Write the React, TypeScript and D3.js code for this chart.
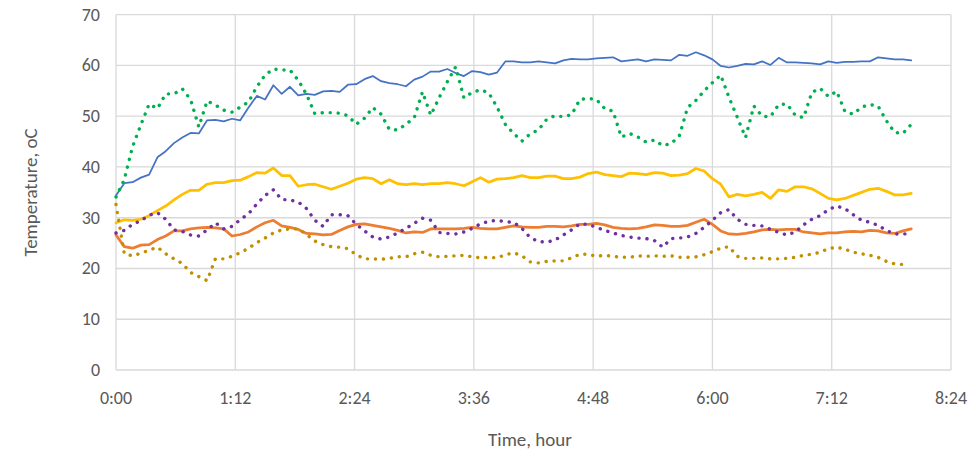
import React from "react";
import * as d3 from "d3";

// time step 5 minutes, 0..480
const STEP_MIN = 5;

const blueSeries = [
  34.4, 36.8, 37.0, 37.9, 38.5, 41.9, 43.1, 44.7, 45.8, 46.7, 46.6, 49.2, 49.3, 49.0, 49.5, 49.2, 51.7, 54.0, 53.3, 56.1, 54.4,
  55.8, 54.1, 54.4, 54.2, 54.9, 55.0, 54.8, 56.2, 56.3, 57.3, 57.9, 56.9, 56.5, 56.3, 55.9, 57.2, 57.8, 58.8, 58.8, 59.3,
  58.5, 57.9, 58.9, 58.7, 58.2, 58.6, 60.8, 60.8, 60.6, 60.6, 60.8, 60.6, 60.4, 61.0, 61.3, 61.2, 61.2, 61.4, 61.5, 61.6,
  60.8, 61.0, 61.2, 60.8, 61.2, 61.1, 61.0, 62.1, 61.9, 62.6,
  62.0, 61.2, 59.9, 59.6, 59.9, 60.3, 60.2, 60.8, 60.1, 61.5, 60.6, 60.6, 60.5, 60.4, 60.2, 60.8, 60.5, 60.7, 60.7, 60.8,
  60.8, 61.6, 61.4, 61.2, 61.2, 61.0,
];

const orangeSeries = [
  26.6, 24.3, 24.0, 24.6, 24.7, 25.7, 26.4, 27.4, 27.4, 27.8, 28.0, 28.1, 28.0, 27.8, 26.4, 26.7, 27.2, 28.2, 29.0, 29.5, 28.4,
  28.1, 27.7, 26.9, 26.8, 26.6, 26.7, 27.5, 28.2, 28.7, 28.8, 28.5, 28.2, 27.9, 27.5, 27.0, 27.2, 27.1, 27.8, 27.8, 27.8,
  27.8, 27.9, 28.1, 27.9, 27.8, 27.8, 28.1, 28.4, 28.2, 28.1, 28.1, 28.3, 28.3, 28.2, 28.4, 28.7, 28.7, 28.9, 28.6,
  28.1, 27.9, 27.8, 27.9, 28.2, 28.6, 28.5, 28.3, 28.3, 28.5, 29.1, 29.7, 28.7, 27.4, 26.8, 26.7, 26.9, 27.2, 27.6, 27.7,
  27.6, 27.7, 27.7, 27.2, 27.0, 26.8, 27.0, 27.0, 27.2, 27.3, 27.2, 27.5, 27.4, 27.0, 26.9, 27.4, 27.8,
];

const yellowSeries = [
  29.0, 29.6, 29.5, 29.7, 30.4, 31.4, 32.3, 33.5, 34.6, 35.4, 35.4, 36.6, 36.9, 36.9, 37.3, 37.4, 38.1, 38.9, 38.8, 39.8, 38.3,
  38.3, 36.2, 36.5, 36.6, 36.1, 35.6, 36.2, 36.8, 37.6, 37.9, 37.7, 36.7, 37.5, 36.7, 36.5, 36.7, 36.5, 36.7, 36.7, 36.9,
  36.7, 36.3, 37.1, 37.9, 37.0, 37.6, 37.7, 37.9, 38.3, 37.9, 37.9, 38.2, 38.2, 37.7, 37.7, 38.0, 38.7, 39.0, 38.5,
  38.3, 38.1, 38.8, 38.7, 38.5, 38.9, 38.8, 38.3, 38.4, 38.7, 39.7, 39.2, 37.7, 36.6, 34.1, 34.6, 34.3, 34.6, 35.0, 33.8,
  35.5, 35.2, 36.1, 36.1, 35.7, 34.8, 33.8, 33.5, 33.8, 34.4, 35.0, 35.6, 35.8, 35.2, 34.5, 34.5, 34.8,
];

const greenSeries = [
  34.1, 37.5, 44.0, 48.3, 52.4, 51.5, 54.4, 54.4, 55.4, 53.3, 47.9, 53.0, 52.2, 51.2, 50.8, 51.8, 52.8, 55.8, 58.1, 59.3, 59.1,
  59.1, 57.1, 54.3, 50.5, 50.7, 50.7, 50.6, 50.1, 48.4, 49.6, 51.7, 50.4, 47.4, 47.3, 48.4, 49.7, 54.8, 50.2, 53.6, 56.8,
  59.7, 53.6, 54.7, 55.2, 54.6, 51.8, 48.4, 46.6, 45.1, 46.5, 47.3, 49.4, 50.1, 49.9, 50.3, 53.3, 53.5, 53.3, 51.5, 51.0,
  45.9, 46.6, 45.9, 44.9, 45.3, 44.2, 44.6, 46.1, 51.7, 53.1,
  55.0, 56.6, 58.1, 53.7, 49.8, 45.8, 52.0, 50.0, 49.9, 52.3, 52.4, 50.2, 49.7, 54.7, 55.5, 53.9, 54.9, 50.9, 50.4, 51.8,
  52.3, 52.0, 49.1, 46.8, 46.6, 48.4,
];

const purpleSeries = [
  27.0, 27.5, 28.7, 29.4, 30.5, 31.0, 29.7, 27.6, 27.3, 26.6, 26.4, 27.6, 29.0, 27.8, 28.3, 29.6, 30.8, 32.7, 34.4, 35.5, 33.6,
  33.5, 33.1, 31.8, 29.5, 28.3, 30.6, 30.6, 30.4, 28.7, 27.4, 26.2, 25.8, 26.2, 27.0, 27.9, 28.9, 29.9, 29.5, 27.1, 26.9,
  26.8, 27.2, 27.9, 28.8, 29.3, 29.5, 29.2, 29.1, 27.9, 26.1, 25.3, 25.2, 25.6, 26.6, 27.6, 28.8, 28.7, 28.1, 27.5,
  27.0, 26.5, 26.2, 26.0, 25.9, 25.5, 24.2, 25.9, 26.0, 26.2, 26.9, 28.1, 29.5, 31.0, 31.6, 29.7, 28.7, 28.5, 28.4, 27.7,
  27.1, 26.6, 27.2, 28.6, 29.7, 30.4, 31.6, 32.3, 31.8, 30.6, 29.5, 29.1, 28.5, 27.5, 26.8, 26.8, 26.9,
];

const goldSeries = [
  32.6, 22.9, 22.5, 23.0, 23.6, 24.2, 22.9, 21.9, 21.0, 19.2, 18.4, 17.6, 21.9, 21.9, 22.4, 23.1, 24.0, 25.1, 26.0, 27.0, 27.6,
  27.8, 27.8, 26.7, 25.4, 24.7, 24.3, 24.2, 23.9, 22.7, 21.9, 21.9, 21.8, 22.0, 22.3, 22.3, 22.9, 23.2, 22.6, 22.3, 22.4,
  22.5, 22.6, 22.3, 22.1, 22.2, 22.1, 22.7, 23.1, 22.5, 21.3, 21.1, 21.4, 21.5, 21.5, 22.1, 22.8, 22.8, 22.4, 22.6,
  22.4, 22.2, 22.2, 22.5, 22.4, 22.5, 22.4, 22.5, 22.2, 22.2, 22.3, 22.7, 23.3, 24.0, 24.3, 22.4, 22.0, 22.0, 22.1, 21.9,
  21.9, 22.0, 22.2, 22.6, 22.8, 23.2, 23.9, 24.2, 23.8, 23.2, 22.9, 22.6, 22.2, 21.4, 20.9, 20.8,
];

const xTickMinutes = [0, 72, 144, 216, 288, 360, 432, 504];
const xTickLabels = ["0:00", "1:12", "2:24", "3:36", "4:48", "6:00", "7:12", "8:24"];
const yTicks = [0, 10, 20, 30, 40, 50, 60, 70];

const xTitle = "Time, hour";
const yTitle = "Temperature, oC";

type SeriesDef = { values: number[]; color: string; dotted: boolean; width: number };

const seriesList: SeriesDef[] = [
  { values: blueSeries, color: "#4472C4", dotted: false, width: 1.75 },
  { values: orangeSeries, color: "#ED7D31", dotted: false, width: 2.75 },
  { values: yellowSeries, color: "#FFC000", dotted: false, width: 2.75 },
  { values: greenSeries, color: "#00B050", dotted: true, width: 3.4 },
  { values: purpleSeries, color: "#7030A0", dotted: true, width: 3.4 },
  { values: goldSeries, color: "#BF9000", dotted: true, width: 3.4 },
];

const W = 976;
const H = 456;
const M = { left: 116, right: 976 - 951, top: 14.7, bottom: 456 - 370 };
const FONT = "Carlito, Calibri, Lato, 'Open Sans', sans-serif";
const TEXT = "#595959";
const GRID = "#D9D9D9";

export default function App() {
  const x = d3.scaleLinear().domain([0, 504]).range([M.left, W - M.right]);
  const y = d3.scaleLinear().domain([0, 70]).range([H - M.bottom, M.top]);

  const line = d3
    .line<number>()
    .x((_, i) => x(i * STEP_MIN))
    .y((d) => y(d));

  return (
    <svg
      width={W}
      height={H}
      style={{ position: "absolute", left: 0, top: 0, background: "#fff" }}
      fontFamily={FONT}
    >
      <rect x={0} y={0} width={W} height={H} fill="#fff" />
      {yTicks.map((t) => (
        <line
          key={"h" + t}
          x1={x(0)}
          x2={x(504)}
          y1={y(t)}
          y2={y(t)}
          stroke={GRID}
          strokeWidth={1.3}
        />
      ))}
      {xTickMinutes.map((t) => (
        <line
          key={"v" + t}
          x1={x(t)}
          x2={x(t)}
          y1={y(0)}
          y2={y(70)}
          stroke={GRID}
          strokeWidth={1.3}
        />
      ))}
      {yTicks.map((t) => (
        <text
          key={"yl" + t}
          x={x(0) - 16}
          y={y(t)}
          textAnchor="end"
          dominantBaseline="central"
          fontSize={18}
          fill={TEXT}
        >
          {t}
        </text>
      ))}
      {xTickMinutes.map((t, i) => (
        <text
          key={"xl" + t}
          x={x(t)}
          y={y(0) + 28}
          textAnchor="middle"
          dominantBaseline="central"
          fontSize={18}
          fill={TEXT}
        >
          {xTickLabels[i]}
        </text>
      ))}
      {seriesList.map((s, k) => (
        <path
          key={"s" + k}
          d={line(s.values) || ""}
          fill="none"
          stroke={s.color}
          strokeWidth={s.width}
          strokeLinejoin="round"
          strokeLinecap="round"
          strokeDasharray={s.dotted ? "0.1 7.9" : undefined}
        />
      ))}
      <text
        x={530}
        y={439}
        textAnchor="middle"
        dominantBaseline="central"
        fontSize={19}
        fill={TEXT}
      >
        {xTitle}
      </text>
      <text
        transform={`translate(30, ${(y(0) + y(70)) / 2}) rotate(-90)`}
        textAnchor="middle"
        dominantBaseline="central"
        fontSize={19}
        fill={TEXT}
      >
        {yTitle}
      </text>
    </svg>
  );
}
